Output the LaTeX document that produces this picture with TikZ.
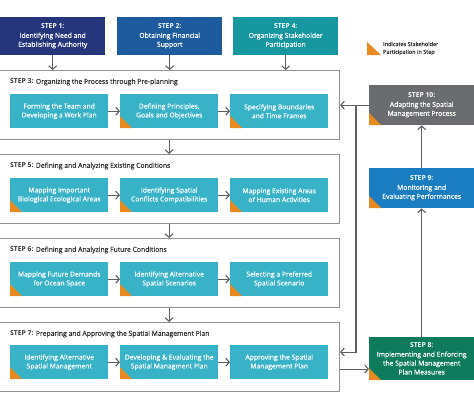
\documentclass[tikz,border=0pt]{standalone}
\usepackage{fontspec}
\setmainfont{Open Sans}
\newfontfamily\medfont[FakeBold=0.6]{Open Sans}
\usetikzlibrary{arrows.meta}
\definecolor{cNavy}{HTML}{25357B}
\definecolor{cBlue}{HTML}{1D5A9E}
\definecolor{cTeal}{HTML}{16969E}
\definecolor{cCyan}{HTML}{38B2C6}
\definecolor{cGray}{HTML}{6B6C6F}
\definecolor{cSky}{HTML}{1A7CC1}
\definecolor{cGreen}{HTML}{0E7C5C}
\definecolor{cOrange}{HTML}{E88A1F}
\definecolor{cFrame}{HTML}{939393}
\definecolor{cLine}{HTML}{5F6062}
\definecolor{cTitle}{HTML}{333333}
\tikzset{
  stepbox/.style={anchor=north west, inner sep=0pt, minimum width=105pt, minimum height=38pt,
    text=white, align=center, font=\medfont\fontsize{6.8}{8.9}\selectfont},
  inbox/.style={anchor=north west, inner sep=0pt, minimum width=98pt, minimum height=34pt,
    fill=cCyan, text=white, align=center, font=\medfont\fontsize{6.8}{8.9}\selectfont},
  frame/.style={anchor=north west, inner sep=0pt, minimum width=341pt, minimum height=69pt,
    draw=cFrame, line width=1.1pt, fill=white},
  ftitle/.style={anchor=west, inner sep=0pt, text=cTitle, font=\medfont\fontsize{6.8}{8}\selectfont},
  corner/.style={path picture={\fill[cOrange] (path picture bounding box.south west) -- ++(12pt,0pt) -- ++(-12pt,12pt) -- cycle;}},
  arr/.style={draw=cLine, line width=1.1pt, -{Straight Barb[length=3.5pt,width=8pt,line width=1.1pt]}},
}
\newcommand{\stp}[1]{{\normalfont\bfseries\fontsize{6.8}{8.9}\selectfont #1}}
\begin{document}
\begin{tikzpicture}[x=1pt,y=-1pt]
\useasboundingbox (0,0) rectangle (474,407);
\fill[white] (0,0) rectangle (474,407);
% top steps
\node[stepbox, fill=cNavy] (s1) at (0,17) {\stp{STEP 1:}\\Identifying Need and\\Establishing Authority};
\node[stepbox, fill=cBlue] (s2) at (117,17) {\stp{STEP 2:}\\Obtaining Financial\\Support};
\node[stepbox, fill=cTeal] (s4) at (233,17) {\stp{STEP 4:}\\Organizing Stakeholder\\Participation};
% legend
\fill[cOrange] (367,42) -- (367,55) -- (381,55) -- cycle;
\node[anchor=west, inner sep=0pt, align=left, text=cTitle, font=\medfont\fontsize{5.5}{7.8}\selectfont] (leg) at (383,48.5) {Indicates Stakeholder\\Participation in Step};
% frames
\node[frame] (f3) at (-2,70) {};
\node[frame] (f5) at (-2,154) {};
\node[frame] (f6) at (-2,238) {};
\node[frame] (f7) at (-2,322) {};
\node[ftitle] (t3) at (10,82) {\stp{STEP 3:} Organizing the Process through Pre-planning};
\node[ftitle] (t5) at (10,166) {\stp{STEP 5:} Defining and Analyzing Existing Conditions};
\node[ftitle] (t6) at (10,250) {\stp{STEP 6:} Defining and Analyzing Future Conditions};
\node[ftitle] (t7) at (10,334) {\stp{STEP 7:} Preparing and Approving the Spatial Management Plan};
% inner boxes
\node[inbox] (a3) at (10,94) {Forming the Team and\\Developing a Work Plan};
\node[inbox, corner] (b3) at (120,94) {Defining Principles,\\Goals and Objectives};
\node[inbox, corner] (c3) at (230,94) {Specifying Boundaries\\and Time Frames};
\node[inbox, corner] (a5) at (10,178) {Mapping Important\\Biological Ecological Areas};
\node[inbox, corner] (b5) at (120,178) {Identifying Spatial\\Conflicts Compatibilities};
\node[inbox, corner] (c5) at (230,178) {Mapping Existing Areas\\of Human Activities};
\node[inbox, corner] (a6) at (10,262) {Mapping Future Demands\\for Ocean Space};
\node[inbox, corner] (b6) at (120,262) {Identifying Alternative\\Spatial Scenarios};
\node[inbox, corner] (c6) at (230,262) {Selecting a Preferred\\Spatial Scenario};
\node[inbox, corner] (a7) at (10,345) {Identifying Alternative\\Spatial Management};
\node[inbox, corner] (b7) at (120,345) {Developing \& Evaluating the\\Spatial Managment Plan};
\node[inbox] (c7) at (230,345) {Approving the Spatial\\Management Plan};
% right steps
\node[stepbox, fill=cGray, corner, minimum height=40pt] (s10) at (369,85) {\stp{STEP 10:}\\Adapting the Spatial\\Management Process};
\node[stepbox, fill=cSky, corner, minimum height=40pt] (s9) at (369,168) {\stp{STEP 9:}\\Monitoring and\\Evaluating Performances};
\node[stepbox, fill=cGreen, corner, minimum height=43pt] (s8) at (369,337) {\stp{STEP 8:}\\Implementing and Enforcing\\the Spatial Management\\Plan Measures};
% arrows top
\draw[arr] (s1.south) -- (s1.south |- f3.north);
\draw[arr] (s2.south) -- (s2.south |- f3.north);
\draw[arr] (s4.south) -- (s4.south |- f3.north);
% inner arrows
\foreach \r in {3,5,6,7}{
  \draw[arr] (a\r.east) -- (b\r.west);
  \draw[arr] (b\r.east) -- (c\r.west);
}
% between frames
\draw[arr] (f3.south) -- (f5.north);
\draw[arr] (f5.south) -- (f6.north);
\draw[arr] (f6.south) -- (f7.north);
% right side
\coordinate (j) at (356,105);
\draw[arr] (s10.west) -- (s10.west -| f3.east);
\draw[arr] (j) |- ([yshift=5pt]f7.east);
\draw[arr] ([yshift=-12pt]f7.east) -- ([yshift=-12pt]f7.east -| s8.west);
\draw[arr] (s8.north) -- (s9.south);
\draw[arr] (s9.north) -- (s10.south);
\end{tikzpicture}
\end{document}
